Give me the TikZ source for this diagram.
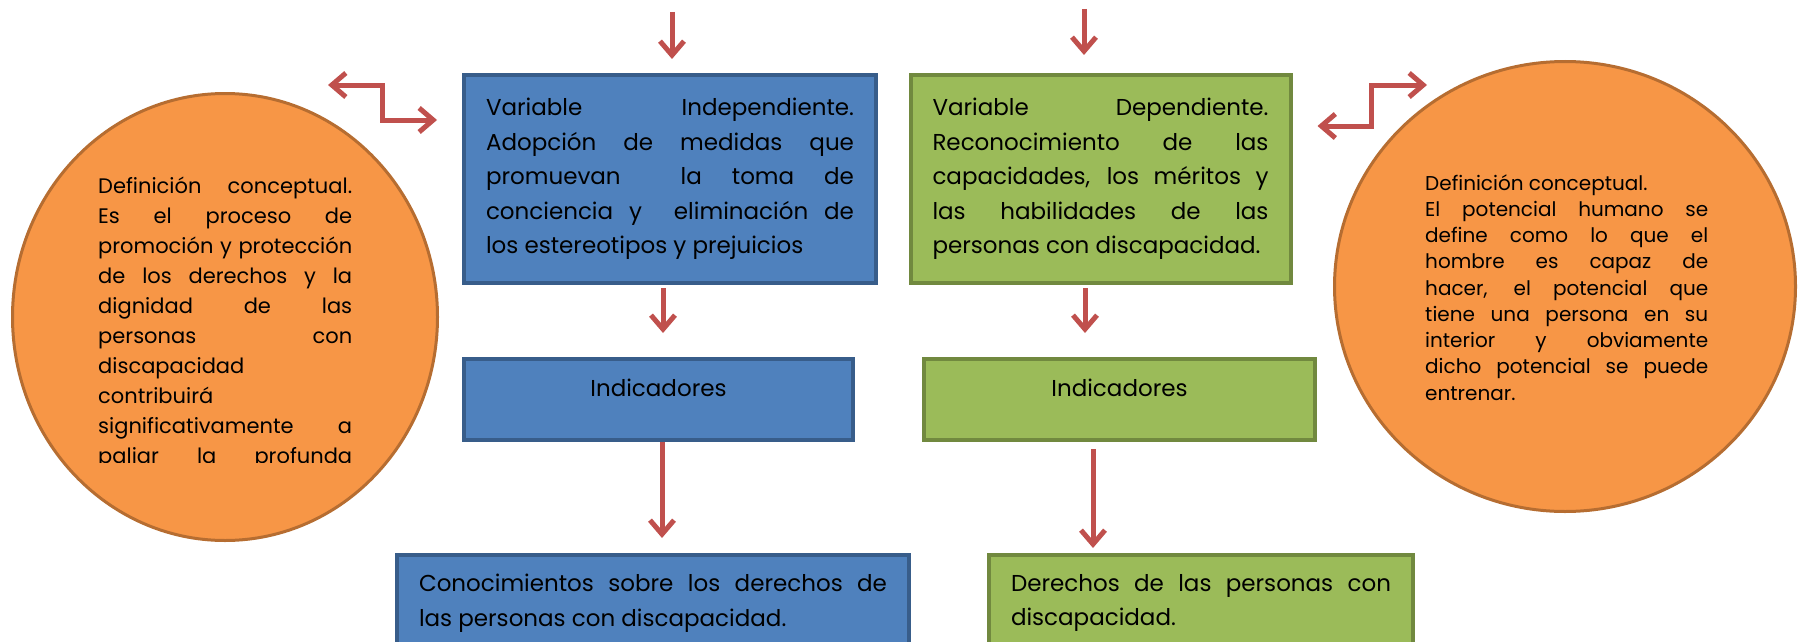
\documentclass[tikz,border=0pt]{standalone}
\usepackage{fontspec}
\setmainfont{Poppins}
\usetikzlibrary{arrows.meta,shapes.geometric}
\tolerance=10000 \hbadness=10000 \hfuzz=6pt
\hyphenpenalty=10000 \exhyphenpenalty=10000

\definecolor{cAzul}{HTML}{4F81BD}
\definecolor{cAzulB}{HTML}{385D8A}
\definecolor{cVerde}{HTML}{9BBB59}
\definecolor{cVerdeB}{HTML}{71893F}
\definecolor{cNaranja}{HTML}{F79646}
\definecolor{cNaranjaB}{HTML}{B66D31}
\definecolor{cRojo}{HTML}{C0504D}

\tikzset{
  caja/.style={rectangle, line width=4pt, inner xsep=22pt, align=justify,
    font=\fontsize{23}{34.5}\selectfont},
  azul/.style={caja, draw=cAzulB, fill=cAzul},
  verde/.style={caja, draw=cVerdeB, fill=cVerde},
  ovalo/.style={ellipse, draw=cNaranjaB, fill=cNaranja, line width=3pt, inner sep=0pt},
  flecha/.style={draw=cRojo, line width=5pt, -{Straight Barb[length=14pt,width=24pt]}},
  doble/.style={draw=cRojo, line width=5pt,
    {Straight Barb[length=14pt,width=24pt]}-{Straight Barb[length=14pt,width=24pt]}},
}

\begin{document}
\begin{tikzpicture}[x=1pt, y=-1pt]
        \useasboundingbox (0,0) rectangle (1798,642);

        % las dos definiciones
        \node[ovalo, minimum width=425pt, minimum height=447pt] (ci) at (225,317) {};
        \node[ovalo, minimum width=461pt, minimum height=450pt] (cd) at (1565,286.5) {};

        \begin{scope}
                \clip (90,150) rectangle (370,462);
                \node[anchor=base west, inner sep=0pt, text width=254pt, align=justify,
                        font=\fontsize{21}{30}\selectfont] (ti) at (98,193)
                        {Definición conceptual.\linebreak Es el proceso de\linebreak
                        promoción y protección\linebreak de los derechos y la\linebreak
                        dignidad de las\linebreak personas con\linebreak discapacidad\linebreak
                        contribuirá\linebreak significativamente a\linebreak paliar la profunda\linebreak};
        \end{scope}
        \node[anchor=base west, inner sep=0pt, text width=283pt, align=justify,
                font=\fontsize{20}{26.25}\selectfont] (td) at (1425,190)
                {Definición conceptual.\newline El potencial humano se\linebreak
                define como lo que el\linebreak hombre es capaz de\linebreak
                hacer, el potencial que\linebreak tiene una persona en su\linebreak
                interior y obviamente\linebreak dicho potencial se puede\linebreak entrenar.};

        % variables
        \node[azul, text width=368pt, minimum height=208pt] (vi) at (670,179)
                {Variable Independiente.\linebreak Adopción de medidas que\linebreak
                promuevan \ la toma de\linebreak conciencia y \ eliminación de\linebreak
                los estereotipos y prejuicios};
        \node[verde, text width=336pt, minimum height=208pt] (vd) at (1100.5,179)
                {Variable Dependiente.\linebreak Reconocimiento de las\linebreak
                capacidades, los méritos y\linebreak las habilidades de las\linebreak
                personas con discapacidad.};

        % indicadores
        \node[azul, align=center, minimum width=389pt, minimum height=81pt, text depth=24pt]
                (bi) at (658.5,399.5) {Indicadores};
        \node[verde, align=center, minimum width=391pt, minimum height=81pt, text depth=24pt]
                (gi) at (1119.5,399.5) {Indicadores};

        \node[azul, text width=468pt, minimum height=96pt] (bc) at (653,603)
                {Conocimientos sobre los derechos de\linebreak las personas con discapacidad.};
        \node[verde, text width=380pt, minimum height=96pt] (gd) at (1201,603)
                {Derechos de las personas con\linebreak discapacidad.};

        % flechas
        \coordinate (ai) at (672,12);
        \coordinate (ad) at (1084,9);
        \draw[flecha, shorten >=14pt] (ai) -- (ai |- vi.north);
        \draw[flecha, shorten >=18pt] (ad) -- (ad |- vd.north);

        \draw[flecha, shorten <=3pt, shorten >=24pt] ([xshift=-7pt]vi.south) -- ([xshift=4.5pt]bi.north);
        \draw[flecha, shorten <=3pt, shorten >=24pt] ([xshift=-15.5pt]vd.south) -- ([xshift=-34.5pt]gi.north);
        \draw[flecha, shorten >=15pt] ([xshift=3.5pt]bi.south) -- ([xshift=9pt]bc.north);
        \draw[flecha, shorten <=7pt, shorten >=5pt] ([xshift=-26.5pt]gi.south) -- ([xshift=-108pt]gd.north);

        \coordinate (ei) at (328,85);
        \coordinate (ed) at (1427,85);
        \draw[doble, shorten >=25pt] (ei) -| (382,120) -- (vi.west |- 0,120);
        \draw[doble, shorten <=25pt] (vd.east |- 0,126) -| (1371,85) -- (ed);
\end{tikzpicture}
\end{document}
